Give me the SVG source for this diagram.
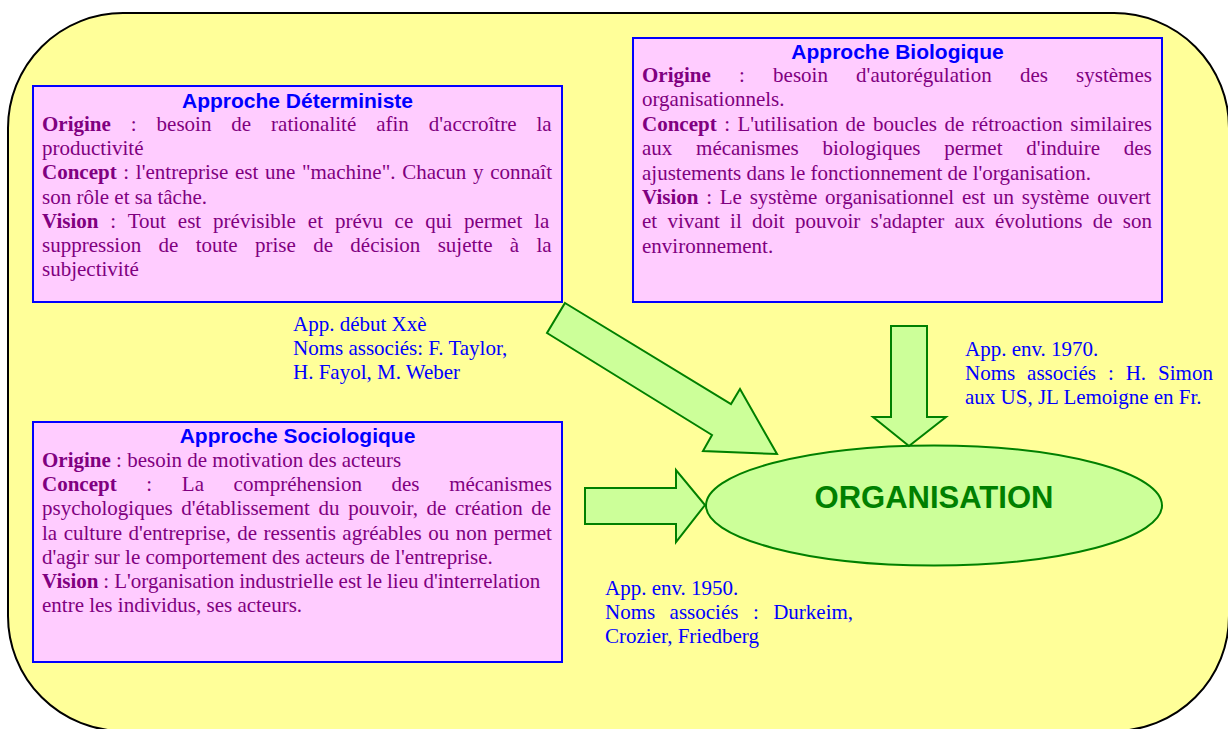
<svg xmlns="http://www.w3.org/2000/svg" width="1228" height="729" viewBox="0 0 1228 729">
<style>
.bg{fill:#FFFF99;stroke:#000;stroke-width:2}
.box{fill:#FFCCFF;stroke:#0000FF;stroke-width:2}
.ttl{font-family:"Liberation Sans",Arial,sans-serif;font-weight:bold;font-size:21px;fill:#0000FF;text-anchor:middle}
.t{font-family:"Liberation Serif","Times New Roman",serif;font-size:21px;fill:#800080}
.b{font-weight:bold}
.lbl{font-family:"Liberation Serif","Times New Roman",serif;font-size:21px;fill:#0000FF}
.arr{fill:#CCFF99;stroke:#008000;stroke-width:2;stroke-linejoin:miter}
.org{font-family:"Liberation Sans",Arial,sans-serif;font-weight:bold;font-size:31px;fill:#008000;text-anchor:middle}
</style>
<rect class="bg" x="8" y="13" width="1221" height="718" rx="115" ry="115"/>

<g id="node-deterministe">
<rect class="box" x="33" y="86" width="529" height="216"/>
<text class="ttl" x="297.5" y="108">Approche Déterministe</text>
<text class="t" x="42" y="131" word-spacing="14.7"><tspan class="b">Origine</tspan> : besoin de rationalité afin d'accroître la</text>
<text class="t" x="42" y="155.2">productivité</text>
<text class="t" x="42" y="179.4" word-spacing="1.43"><tspan class="b">Concept</tspan> : l'entreprise est une "machine". Chacun y connaît</text>
<text class="t" x="42" y="203.6">son rôle et sa tâche.</text>
<text class="t" x="42" y="227.8" word-spacing="6.67"><tspan class="b">Vision</tspan> : Tout est prévisible et prévu ce qui permet la</text>
<text class="t" x="42" y="252" word-spacing="12.1">suppression de toute prise de décision sujette à la</text>
<text class="t" x="42" y="276.2">subjectivité</text>
</g>

<g id="node-biologique">
<rect class="box" x="633" y="38" width="529" height="264"/>
<text class="ttl" x="897.5" y="59">Approche Biologique</text>
<text class="t" x="642" y="82" word-spacing="22.96"><tspan class="b">Origine</tspan> : besoin d'autorégulation des systèmes</text>
<text class="t" x="642" y="106.4">organisationnels.</text>
<text class="t" x="642" y="130.8" word-spacing="2.24"><tspan class="b">Concept</tspan> : L'utilisation de boucles de rétroaction similaires</text>
<text class="t" x="642" y="155.2" word-spacing="18.5">aux mécanismes biologiques permet d'induire des</text>
<text class="t" x="642" y="179.6">ajustements dans le fonctionnement de l'organisation.</text>
<text class="t" x="642" y="204" word-spacing="2.5"><tspan class="b">Vision</tspan> : Le système organisationnel est un système ouvert</text>
<text class="t" x="642" y="228.4" word-spacing="4.98">et vivant il doit pouvoir s'adapter aux évolutions de son</text>
<text class="t" x="642" y="252.8">environnement.</text>
</g>

<g id="node-sociologique">
<rect class="box" x="33" y="422" width="529" height="240"/>
<text class="ttl" x="297.5" y="443">Approche Sociologique</text>
<text class="t" x="42" y="467"><tspan class="b">Origine</tspan> : besoin de motivation des acteurs</text>
<text class="t" x="42" y="491.2" word-spacing="24.4"><tspan class="b">Concept</tspan> : La compréhension des mécanismes</text>
<text class="t" x="42" y="515.4" word-spacing="3.4">psychologiques d'établissement du pouvoir, de création de</text>
<text class="t" x="42" y="539.6" word-spacing="1.24">la culture d'entreprise, de ressentis agréables ou non permet</text>
<text class="t" x="42" y="563.8">d'agir sur le comportement des acteurs de l'entreprise.</text>
<text class="t" x="42" y="588" word-spacing="-0.3"><tspan class="b">Vision</tspan> : L'organisation industrielle est le lieu d'interrelation</text>
<text class="t" x="42" y="612.2">entre les individus, ses acteurs.</text>
</g>

<g id="node-organisation">
<ellipse cx="934" cy="505.5" rx="228" ry="60" fill="#CCFF99" stroke="#008000" stroke-width="2"/>
<text class="org" x="934" y="508">ORGANISATION</text>
</g>

<g id="connectors">
<polygon class="arr" points="565,303 731,404 740,389 777,454 703,451 712,435 547,333"/>
<polygon class="arr" points="891,326 927,326 927,417 946,417 909,446 873,417 891,417"/>
<polygon class="arr" points="585,488 676,488 676,470 705,505 676,542 676,524 585,524"/>
</g>

<g id="label-deterministe">
<text class="lbl" x="293" y="331">App. début Xxè</text>
<text class="lbl" x="293" y="355">Noms associés: F. Taylor,</text>
<text class="lbl" x="293" y="379">H. Fayol, M. Weber</text>
</g>
<g id="label-biologique">
<text class="lbl" x="965" y="356">App. env. 1970.</text>
<text class="lbl" x="965" y="380" word-spacing="6.7">Noms associés : H. Simon</text>
<text class="lbl" x="965" y="404">aux US, JL Lemoigne en Fr.</text>
</g>
<g id="label-sociologique">
<text class="lbl" x="605" y="595">App. env. 1950.</text>
<text class="lbl" x="605" y="619" word-spacing="9.2">Noms associés : Durkeim,</text>
<text class="lbl" x="605" y="643">Crozier, Friedberg</text>
</g>
</svg>
